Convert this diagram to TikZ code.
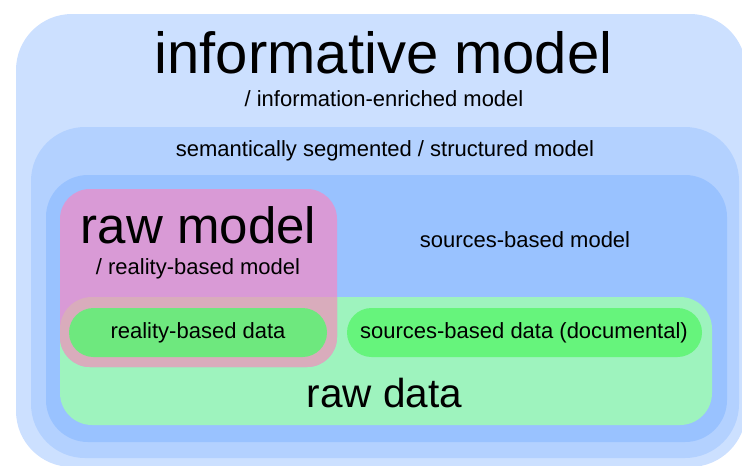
\documentclass[tikz,border=0pt]{standalone}
\usepackage{fontspec}
\setmainfont{Liberation Sans}
\definecolor{outerblue}{HTML}{CCE0FF}
\definecolor{midblue}{HTML}{B3D1FF}
\definecolor{innerblue}{HTML}{99C2FF}
\definecolor{rawpink}{HTML}{D99AD6}
\definecolor{rawgreen}{HTML}{9EF3BE}
\definecolor{overlap}{HTML}{D9ACBC}
\definecolor{pillgreen}{HTML}{66F47C}
\definecolor{pillgreenb}{HTML}{6EE87E}
\tikzset{
  region/.style={draw=none},
  lbl/.style={anchor=base, inner sep=0pt, text=black},
}
\newcommand{\fs}[1]{\fontsize{#1}{#1}\selectfont}
\begin{document}
\begin{tikzpicture}[x=1pt,y=-1pt]
\useasboundingbox (0,0) rectangle (742,466);
\fill[white] (0,0) rectangle (742,466);
% boxes
\fill[outerblue, rounded corners=56pt] (16,14) rectangle (746,467);
\fill[midblue, rounded corners=54pt] (31,127) rectangle (739,458);
\fill[innerblue, rounded corners=42pt] (46,175) rectangle (727,442);
\fill[rawgreen, rounded corners=32pt] (60,297) rectangle (712,425);
\fill[rawpink, rounded corners=30pt] (60,189) rectangle (337,367);
\begin{scope}
  \clip[rounded corners=32pt] (60,297) rectangle (712,425);
  \fill[overlap, rounded corners=30pt] (60,189) rectangle (337,367);
\end{scope}
% pills
\node[region, fill=pillgreenb, rounded corners=24.5pt, minimum width=258pt, minimum height=49pt, inner sep=0pt] (rbd) at (198,332.5) {};
\node[region, fill=pillgreen, rounded corners=24.5pt, minimum width=355pt, minimum height=49pt, inner sep=0pt] (sbd) at (524.5,332.5) {};
% labels
\node[lbl, font=\fs{58}] (inf) at (383.5,73) {informative model};
\node[lbl, font=\fs{22}] (infsub) at (384,106) {/ information-enriched model};
\node[lbl, font=\fs{22}] (sem) at (385,156) {semantically segmented / structured model};
\node[lbl, font=\fs{22}] (src) at (525,247) {sources-based model};
\node[lbl, font=\fs{51}] (rawm) at (198.5,243) {raw model};
\node[lbl, font=\fs{22}] (rawmsub) at (198,274) {/ reality-based model};
\node[lbl, font=\fs{22}] at (198,338) {reality-based data};
\node[lbl, font=\fs{22}] at (524,338) {sources-based data (documental)};
\node[lbl, font=\fs{40.5}] (rawd) at (384.5,407) {raw data};
\end{tikzpicture}
\end{document}
